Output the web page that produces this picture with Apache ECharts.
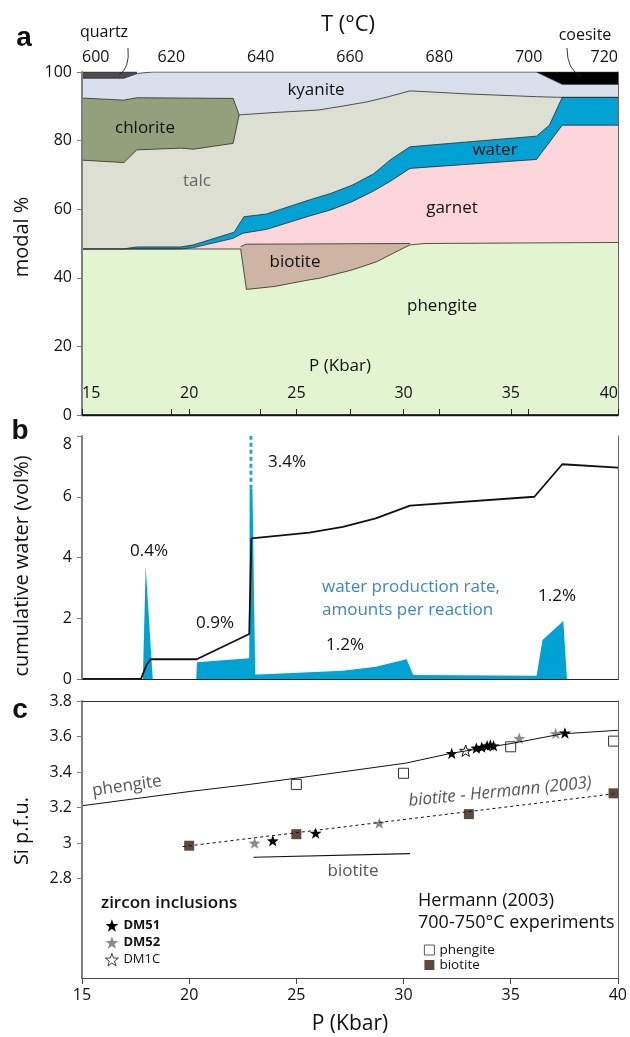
<!DOCTYPE html>
<html><head><meta charset="utf-8">
<script src="https://cdn.jsdelivr.net/npm/echarts@6/dist/echarts.min.js"></script>
<style>html,body{margin:0;padding:0;background:#fff}#chart{width:630px;height:1037px}</style>
</head><body><div id="chart"></div>
<script>
// ---------- Panel a: phase boundaries (top of each layer), [P kbar, modal %] ----------
const quartzTop   = [[15,100],[17.56,100]];
const coesiteTop  = [[36.2,100],[40,100]];
const kyaniteTop  = [[15,98.2],[16.95,98.2],[17.6,99.6],[18.3,100],[36.2,100],[37.4,96.4],[40,96.4]];
const chloriteTop = [[15,92.4],[16.95,91.8],[17.56,92.5],[22.05,92.3],[22.33,87.5]];
const talcTop     = [[15,74.3],[16.95,73.6],[17.56,77.3],[19.6,77.8],[20.2,77.5],[22.05,79.2],[22.33,87.5],[24,88.2],[26,88.9],[27.2,90.1],[28.3,91.3],[29.3,92.8],[30.3,94.5],[33,93.6],[36.2,92.8],[37.4,92.6],[40,92.6]];
const waterTop    = [[15,48.4],[16.9,48.4],[17.56,49.0],[19.6,49.0],[20.2,49.6],[22.1,53.3],[22.55,57.8],[23.6,58.6],[25.6,62.7],[26.6,64.6],[27.6,67.0],[28.6,70.3],[29.4,74.5],[30.3,78.2],[36.2,81.3],[36.8,84.5],[37.4,92.6],[40,92.6]];
const garnetTop   = [[15,48.4],[19.6,48.4],[20.2,48.8],[22.05,51.5],[22.5,53.0],[23.6,54.1],[25.6,58.0],[26.6,59.8],[27.6,62.2],[28.6,65.3],[29.4,68.2],[30.3,71.9],[36.2,74.5],[37.4,84.5],[40,84.5]];
const biotiteTop  = [[22.4,49.1],[22.65,49.8],[30.3,50.0]];
const phengiteTop = [[15,48.4],[22.4,48.4],[22.67,36.6],[24,37.5],[25.6,39.4],[26.1,39.9],[27.6,42.3],[28.75,44.7],[29.5,47.1],[30.3,49.6],[31,50.0],[40,50.3]];

// ---------- Panel b ----------
const cumulativeWater = [[15,0],[17.75,0],[18.0,0.45],[18.2,0.65],[20.35,0.65],[22.8,1.48],[22.9,4.63],[25.6,4.82],[27.17,5.01],[28.7,5.29],[30.3,5.71],[36.1,6.00],[36.5,6.33],[37.4,7.07],[40,6.96]];
const waterRate = [[15,0],[17.84,0],[17.86,0.6],[17.97,3.7],[18.3,0],[20.33,0],[20.36,0.55],[22.8,0.68],[22.82,6.26],[22.95,6.26],[23.08,0.15],[23.5,0.16],[23.55,0.19],[25.6,0.22],[27.17,0.27],[28.7,0.40],[30.14,0.65],[30.45,0.13],[36.2,0.11],[36.48,1.28],[37.45,1.91],[37.62,0],[40,0]];
const spikeOverflow = [[22.88,6.26],[22.88,8]];
const rateLabels = ['0.4%','0.9%','3.4%','1.2%','1.2%'];

// ---------- Panel c ----------
const phengiteModel = [[15,3.21],[20,3.29],[22.8,3.33],[25.6,3.375],[30.1,3.45],[32.2,3.505],[35,3.56],[37.4,3.615],[40,3.635]];
const biotiteFit    = [[19.7,2.98],[40,3.28]];
const biotiteModel  = [[23,2.92],[30.3,2.94]];
const hermannPhengite = [[25,3.33],[30,3.393],[35,3.542],[39.8,3.574]];
const hermannBiotite  = [[20,2.985],[25,3.05],[33.05,3.163],[39.8,3.28]];
const DM51 = [[23.9,3.013],[25.9,3.056],[32.25,3.505],[33.4,3.535],[33.65,3.54],[33.9,3.548],[34.05,3.552],[34.2,3.548],[37.53,3.62]];
const DM52 = [[23.05,3.0],[28.87,3.112],[35.4,3.59],[37.1,3.617]];
const DM1C = [[32.9,3.52]];

const siTicks = [2.8,3,3.2,3.4,3.6,3.8];

const FONT = 'Open Sans, sans-serif';
const STAR = 'path://M0,-10L2.35,-3.24L9.51,-3.09L3.8,1.24L5.88,8.09L0,4L-5.88,8.09L-3.8,1.24L-9.51,-3.09L-2.35,-3.24Z';

const C = {
  quartz:'#4d4d4d', coesite:'#000000', kyanite:'#d9dfeb', chlorite:'#94a07b', talc:'#dcdfd1',
  water:'#00a2d3', garnet:'#fdd6dc', biotite:'#ceb4a3', phengite:'#e3f5d0'
};

function layer(name, data, color){
  return {name:name, type:'line', xAxisIndex:0, yAxisIndex:0, data:data, symbol:'none', silent:true,
    lineStyle:{color:'#2a2a2a', width:0.8}, areaStyle:{color:color, opacity:1}};
}

function txt(x,y,text,o){
  o = o||{};
  return {type:'text', x:x, y:y, rotation:o.rot||0, z:100, silent:true,
    style:{text:text, x:0, y:0, fill:o.color||'#111', fontSize:o.size||17, fontFamily:o.family||FONT,
      fontWeight:o.weight||'normal', fontStyle:o.style||'normal',
      align:o.align||'center', verticalAlign:'middle', textAlign:o.align||'center', textVerticalAlign:'middle'}};
}

const chart = echarts.init(document.getElementById('chart'), null, {renderer:'canvas'});

const tickLabel = {fontSize:16, color:'#111', fontFamily:FONT};

const option = {
  animation:false,
  textStyle:{fontFamily:FONT},
  grid:[
    {left:82, top:72, width:536, height:343},
    {left:82, top:436, width:536, height:243},
    {left:82, top:701, width:536, height:277}
  ],
  xAxis:[
    {gridIndex:0, type:'value', min:15, max:40, interval:5, position:'bottom', z:10,
      axisLine:{lineStyle:{color:'#222', width:1.3}}, axisTick:{inside:true, length:6, lineStyle:{color:'#222'}},
      axisLabel:Object.assign({inside:true, margin:14, alignMinLabel:'left', alignMaxLabel:'right'}, tickLabel), splitLine:{show:false}},
    {gridIndex:0, type:'value', min:600, max:720, interval:20, position:'top', z:10,
      axisLine:{lineStyle:{color:'#111', width:1.6}}, axisTick:{length:6, lineStyle:{color:'#222'}},
      axisLabel:Object.assign({margin:7, alignMinLabel:'left', alignMaxLabel:'right'}, tickLabel), splitLine:{show:false}},
    {gridIndex:1, type:'value', min:15, max:40, interval:5, z:10,
      axisLine:{lineStyle:{color:'#333', width:1.2}}, axisTick:{show:false}, axisLabel:{show:false}, splitLine:{show:false}},
    {gridIndex:1, type:'value', min:15, max:40, position:'top', z:10,
      axisLine:{lineStyle:{color:'#222', width:1.2}}, axisTick:{show:false}, axisLabel:{show:false}, splitLine:{show:false}},
    {gridIndex:2, type:'value', min:15, max:40, interval:5, z:10,
      axisLine:{lineStyle:{color:'#444', width:1.2}}, axisTick:{length:6, lineStyle:{color:'#444'}},
      axisLabel:Object.assign({margin:9}, tickLabel), splitLine:{show:false}},
    {gridIndex:2, type:'value', min:15, max:40, position:'top', z:10,
      axisLine:{lineStyle:{color:'#333', width:1.2}}, axisTick:{show:false}, axisLabel:{show:false}, splitLine:{show:false}}
  ],
  yAxis:[
    {gridIndex:0, type:'value', min:0, max:100, interval:20, z:10,
      axisLine:{show:true, lineStyle:{color:'#808080', width:2}}, axisTick:{show:true, length:5, lineStyle:{color:'#808080'}},
      axisLabel:Object.assign({margin:10}, tickLabel), splitLine:{show:false}},
    {gridIndex:0, type:'value', min:0, max:100, position:'right', z:10,
      axisLine:{show:true, lineStyle:{color:'#666', width:1}}, axisTick:{show:false}, axisLabel:{show:false}, splitLine:{show:false}},
    {gridIndex:1, type:'value', min:0, max:8, interval:2, z:10,
      axisLine:{show:true, lineStyle:{color:'#808080', width:2}}, axisTick:{show:true, length:5, lineStyle:{color:'#808080'}},
      axisLabel:Object.assign({margin:10, verticalAlignMaxLabel:'top'}, tickLabel), splitLine:{show:false}},
    {gridIndex:1, type:'value', min:0, max:8, position:'right', z:10,
      axisLine:{show:true, lineStyle:{color:'#666', width:1}}, axisTick:{show:false}, axisLabel:{show:false}, splitLine:{show:false}},
    {gridIndex:2, type:'value', min:2.24, max:3.8, z:10,
      axisLine:{show:true, lineStyle:{color:'#808080', width:2}},
      axisTick:{show:true, length:5, lineStyle:{color:'#808080'}, customValues:siTicks},
      axisLabel:Object.assign({margin:10, customValues:siTicks, formatter:function(v){return Math.abs(v-3)<1e-6?'3':v.toFixed(1);}}, tickLabel),
      splitLine:{show:false}},
    {gridIndex:2, type:'value', min:2.24, max:3.8, position:'right', z:10,
      axisLine:{show:true, lineStyle:{color:'#666', width:1}}, axisTick:{show:false}, axisLabel:{show:false}, splitLine:{show:false}}
  ],
  legend:[
    {orient:'vertical', left:100, top:914, itemWidth:13, itemHeight:13, itemGap:4, selectedMode:false,
      textStyle:{fontSize:13, color:'#111', fontFamily:FONT},
      data:[{name:'DM51', textStyle:{fontWeight:'bold'}},{name:'DM52', textStyle:{fontWeight:'bold'}},
            {name:'DM1C', itemStyle:{borderWidth:0.8, borderColor:'#111', color:'#fff'}}]},
    {orient:'vertical', left:419, top:938, itemWidth:10, itemHeight:10, itemGap:1, selectedMode:false,
      textStyle:{fontSize:13.5, color:'#111', fontFamily:FONT},
      data:[{name:'phengite', itemStyle:{borderWidth:0.8}},'biotite']}
  ],
  series:[
    // panel a (painted top boundary first)
    layer('quartz layer', quartzTop, C.quartz),
    layer('coesite layer', coesiteTop, C.coesite),
    layer('kyanite layer', kyaniteTop, C.kyanite),
    layer('chlorite layer', chloriteTop, C.chlorite),
    layer('talc layer', talcTop, C.talc),
    layer('water layer', waterTop, C.water),
    layer('garnet layer', garnetTop, C.garnet),
    layer('biotite layer', biotiteTop, C.biotite),
    layer('phengite layer', phengiteTop, C.phengite),
    // panel b
    {name:'water production rate', type:'line', xAxisIndex:2, yAxisIndex:2, data:waterRate, symbol:'none', silent:true,
      lineStyle:{width:0}, areaStyle:{color:C.water, opacity:1}},
    {name:'rate overflow', type:'line', xAxisIndex:2, yAxisIndex:2, data:spikeOverflow, symbol:'none', silent:true,
      lineStyle:{color:'#1fa6d8', width:3, type:[4,3]}},
    {name:'cumulative water', type:'line', xAxisIndex:2, yAxisIndex:2, data:cumulativeWater, symbol:'none', silent:true,
      lineStyle:{color:'#111', width:1.8}},
    // panel c
    {name:'phengite model', type:'line', xAxisIndex:4, yAxisIndex:4, data:phengiteModel, symbol:'none', silent:true,
      lineStyle:{color:'#111', width:1}},
    {name:'biotite fit', type:'line', xAxisIndex:4, yAxisIndex:4, data:biotiteFit, symbol:'none', silent:true,
      lineStyle:{color:'#111', width:1, type:[3,3]}},
    {name:'biotite model', type:'line', xAxisIndex:4, yAxisIndex:4, data:biotiteModel, symbol:'none', silent:true,
      lineStyle:{color:'#111', width:1.2}},
    {name:'phengite', type:'scatter', xAxisIndex:4, yAxisIndex:4, data:hermannPhengite, symbol:'rect', symbolSize:10,
      itemStyle:{color:'#fff', borderColor:'#333', borderWidth:1, opacity:1}},
    {name:'biotite', type:'scatter', xAxisIndex:4, yAxisIndex:4, data:hermannBiotite, symbol:'rect', symbolSize:10,
      itemStyle:{color:'#5b4a3e', opacity:1}},
    {name:'DM52', type:'scatter', xAxisIndex:4, yAxisIndex:4, data:DM52, symbol:STAR, symbolSize:12, symbolKeepAspect:true,
      itemStyle:{color:'#8a8a8a', opacity:1}},
    {name:'DM1C', type:'scatter', xAxisIndex:4, yAxisIndex:4, data:DM1C, symbol:STAR, symbolSize:12, symbolKeepAspect:true,
      itemStyle:{color:'#fff', borderColor:'#111', borderWidth:1, opacity:1}},
    {name:'DM51', type:'scatter', xAxisIndex:4, yAxisIndex:4, data:DM51, symbol:STAR, symbolSize:12, symbolKeepAspect:true,
      itemStyle:{color:'#000', opacity:1}}
  ]
};

chart.setOption(option);

const g = [];
g.push(txt(24,38,'a',{size:28, weight:'bold', family:'Liberation Sans, Arial, sans-serif'}));
g.push(txt(20,431,'b',{size:28, weight:'bold', family:'Liberation Sans, Arial, sans-serif'}));
g.push(txt(20,710,'c',{size:28, weight:'bold', family:'Liberation Sans, Arial, sans-serif'}));
g.push(txt(22,237,'modal %',{size:20, rot:Math.PI/2}));
g.push(txt(22,566,'cumulative water (vol%)',{size:20, rot:Math.PI/2}));
g.push(txt(22,831,'Si p.f.u.',{size:20, rot:Math.PI/2}));
g.push(txt(348,25,'T (°C)',{size:22}));
g.push(txt(350,1024,'P (Kbar)',{size:21}));
g.push(txt(340,366,'P (Kbar)',{size:17}));
g.push(txt(104,32,'quartz',{size:16}));
g.push(txt(585,35,'coesite',{size:16}));
g.push({type:'bezierCurve', z:100, silent:true, shape:{x1:128,y1:48,cpx1:130,cpy1:68,x2:119,y2:75}, style:{stroke:'#222', lineWidth:0.9, fill:null}});
g.push({type:'bezierCurve', z:100, silent:true, shape:{x1:567,y1:48,cpx1:567,cpy1:70,x2:581,y2:76}, style:{stroke:'#222', lineWidth:0.9, fill:null}});
g.push(txt(316,90,'kyanite'));
g.push(txt(145,128,'chlorite'));
g.push(txt(197,181,'talc',{color:'#666'}));
g.push(txt(495,150,'water'));
g.push(txt(452,208,'garnet'));
g.push(txt(295,262,'biotite'));
g.push(txt(442,306,'phengite'));
const pb = [[149,551],[215,623],[287,462],[345,645],[557,596]];
rateLabels.forEach(function(r,i){ g.push(txt(pb[i][0],pb[i][1],r,{size:17})); });
g.push(txt(322,587,'water production rate,',{size:17, color:'#3d86c6', align:'left'}));
g.push(txt(322,610,'amounts per reaction',{size:17, color:'#3d86c6', align:'left'}));
g.push(txt(127,786,'phengite',{size:17, color:'#555', rot:0.14}));
g.push(txt(500,792,'biotite - Hermann (2003)',{size:17, color:'#555', style:'italic', rot:0.1}));
g.push(txt(353,871,'biotite',{size:17, color:'#555'}));
g.push(txt(101,903,'zircon inclusions',{size:17, weight:600, align:'left'}));
g.push(txt(418,901,'Hermann (2003)',{size:18, align:'left'}));
g.push(txt(418,923,'700-750°C experiments',{size:18, align:'left'}));

chart.setOption({graphic:g});
</script></body></html>
